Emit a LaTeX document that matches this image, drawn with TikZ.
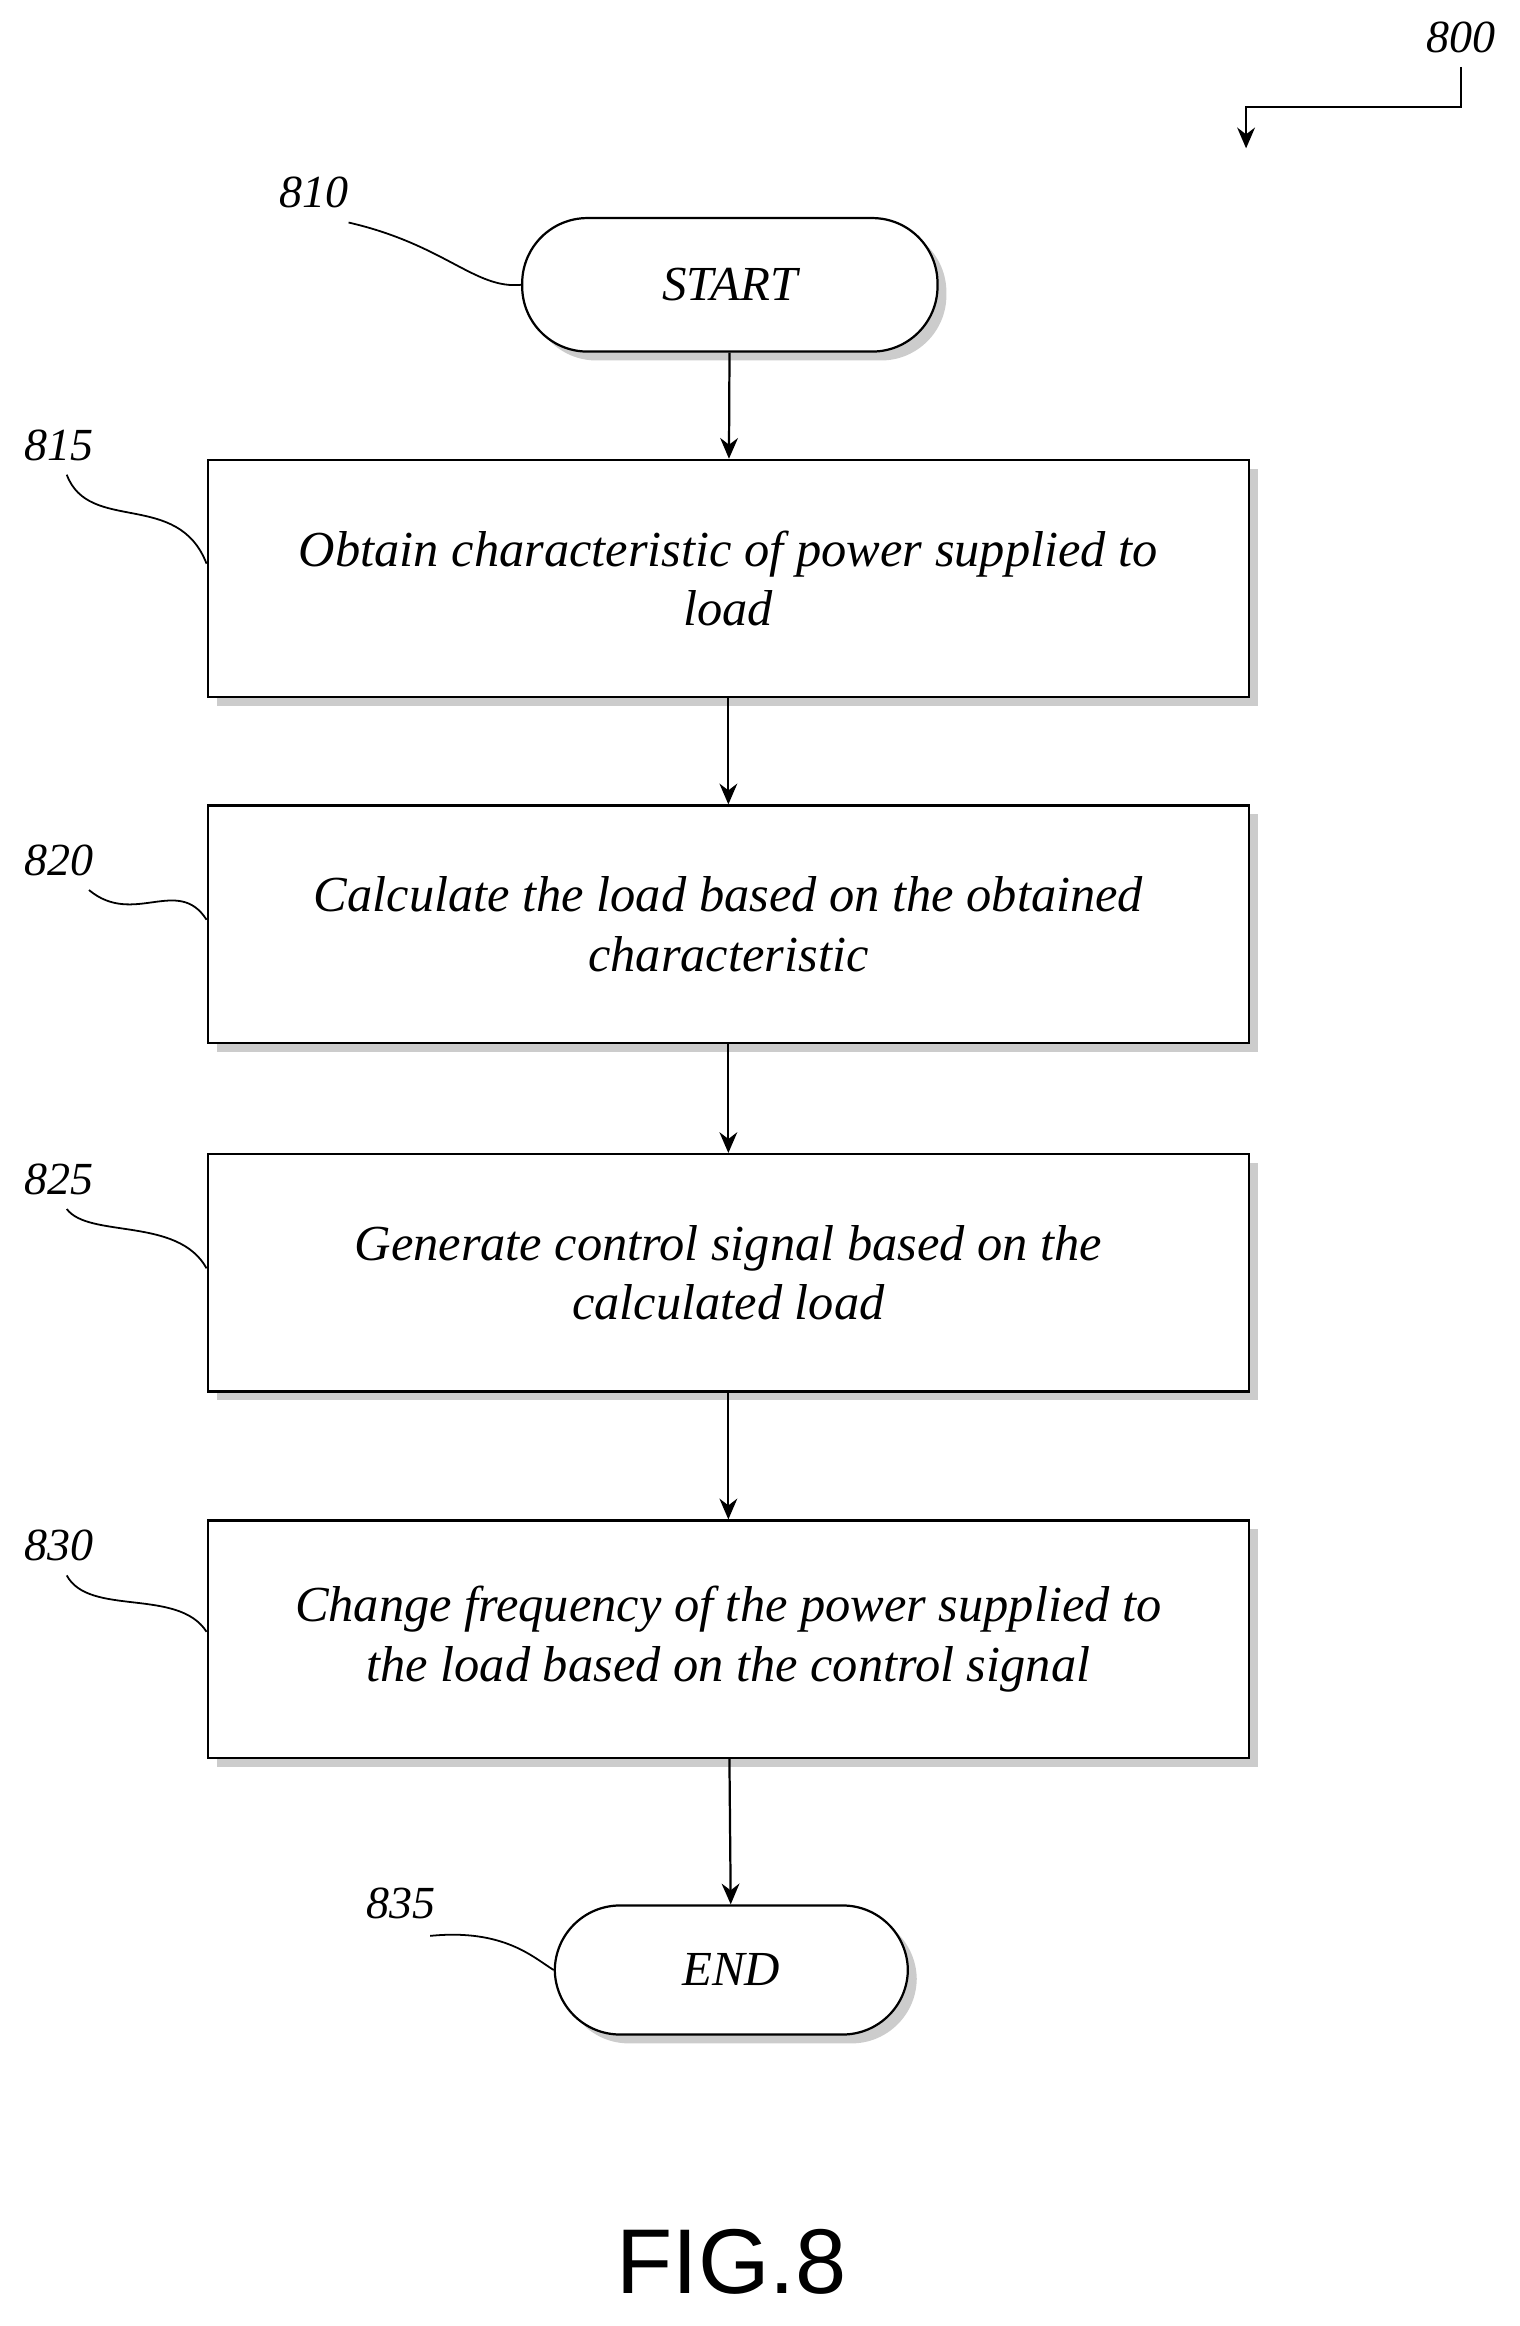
\documentclass[tikz,border=0pt]{standalone}
\usepackage{fontspec}
\setmainfont{Liberation Serif}
\setsansfont{Liberation Sans}
\usetikzlibrary{shadows,arrows.meta}
\begin{document}
\begin{tikzpicture}[x=1pt,y=-1pt,
  box/.style={draw,line width=1.5pt,fill=white,minimum width=702pt,minimum height=160pt,align=center,font=\fontsize{34}{40}\selectfont\itshape,drop shadow={shadow xshift=6pt,shadow yshift=-6pt,fill=gray!80}},
  term/.style={draw,line width=1.5pt,fill=white,rounded corners=44pt,minimum height=90pt,font=\fontsize{33}{40}\selectfont\itshape,drop shadow={shadow xshift=6pt,shadow yshift=-6pt,fill=gray!80}},
  arr/.style={line width=1.5pt,-{Stealth[length=14pt,width=12pt]}},
  lead/.style={line width=1.2pt},
  lbl/.style={font=\fontsize{31}{36}\selectfont\itshape}]
\useasboundingbox (0,0) rectangle (1024,1568);
\node[term,minimum width=280pt] (start) at (492,192) {START};
\node[box] (b815) at (491,390) {Obtain characteristic of power supplied to\\load};
\node[box] (b820) at (491,623) {Calculate the load based on the obtained\\characteristic};
\node[box] (b825) at (491,858) {Generate control signal based on the\\calculated load};
\node[box] (b830) at (491,1105) {Change frequency of the power supplied to\\the load based on the control signal};
\node[term,minimum width=238pt,minimum height=87pt] (end) at (493,1328) {END};
\draw[arr] (start) -- (b815);
\draw[arr] (b815) -- (b820);
\draw[arr] (b820) -- (b825);
\draw[arr] (b825) -- (b830);
\draw[arr] (b830) -- (end);
\node[lbl] (l800) at (985,25) {800};
\coordinate (c800) at (840,100);
\draw[arr] (985,45) -- (985,72) -- (840,72) -- (c800);
\node[lbl] (l810) at (212,130) {810};
\draw[lead] (235,150) .. controls (300,165) and (320,195) .. (start.west);
\node[lbl] (l815) at (40,300) {815};
\draw[lead] (45,320) .. controls (60,360) and (120,330) .. (b815.west |- 0,380);
\node[lbl] (l820) at (40,580) {820};
\draw[lead] (60,600) .. controls (90,625) and (120,590) .. (b820.west |- 0,620);
\node[lbl] (l825) at (40,795) {825};
\draw[lead] (45,815) .. controls (60,835) and (120,820) .. (b825.west |- 0,855);
\node[lbl] (l830) at (40,1042) {830};
\draw[lead] (45,1062) .. controls (60,1090) and (120,1070) .. (b830.west |- 0,1100);
\node[lbl] (l835) at (270,1283) {835};
\draw[lead] (290,1305) .. controls (340,1300) and (360,1320) .. (end.west);
\node[font=\sffamily\fontsize{62}{70}\selectfont] (fig) at (493,1525) {FIG.8};
\end{tikzpicture}
\end{document}
